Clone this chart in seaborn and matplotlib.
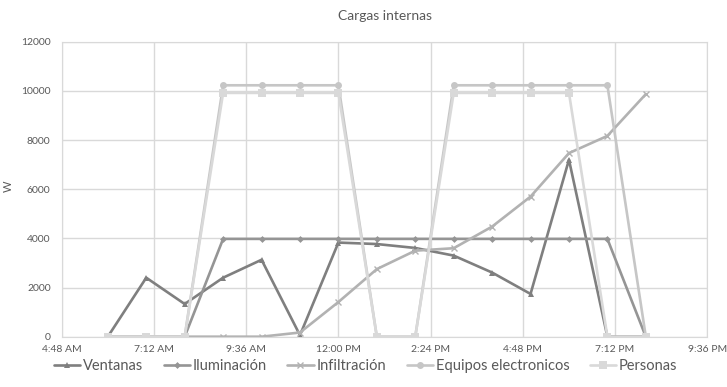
import pandas as pd
import numpy as np
import matplotlib
matplotlib.use("Agg")
import matplotlib.pyplot as plt
import seaborn as sns

horas = ["06:00", "07:00", "08:00", "09:00", "10:00", "11:00", "12:00", "13:00",
         "14:00", "15:00", "16:00", "17:00", "18:00", "19:00", "20:00"]

ventanas = [0, 2400, 1330, 2400, 3130, 60, 3830, 3770, 3610, 3300, 2610, 1740, 7200, 0, 0]
iluminacion = [0, 0, 0, 3980, 3980, 3980, 3980, 3980, 3980, 3980, 3980, 3980, 3980, 3980, 0]
infiltracion = [0, 0, 0, 0, 0, 170, 1410, 2750, 3500, 3600, 4480, 5700, 7470, 8170, 9870]
equipos = [0, 0, 0, 10230, 10230, 10230, 10230, 0, 0, 10230, 10230, 10230, 10230, 10230, 0]
personas = [0, 0, 0, 9920, 9920, 9920, 9920, 0, 0, 9920, 9920, 9920, 9920, 0, 0]

series = ["Ventanas", "Iluminación", "Infiltración", "Equipos electronicos", "Personas"]
colors = ["#7f7f7f", "#959595", "#b2b2b2", "#c6c6c6", "#d9d9d9"]
markers = ["^", "D", "x", "o", "s"]
msizes = [5, 3.5, 5, 5, 5.5]

t = pd.to_datetime(["2020-01-01 " + h for h in horas])
df = pd.DataFrame({"hora": t, "Ventanas": ventanas, "Iluminación": iluminacion,
                   "Infiltración": infiltracion, "Equipos electronicos": equipos,
                   "Personas": personas})

sns.set_style("white")
plt.rcParams["font.family"] = ["Lato", "DejaVu Sans"]

fig = plt.figure(figsize=(7.27, 3.87), dpi=100)
ax = fig.add_axes([0.0849, 0.13, 0.888, 0.762])

for name, c, m, ms in zip(series, colors, markers, msizes):
    sns.lineplot(data=df, x="hora", y=name, ax=ax, color=c, marker=m,
                 markersize=ms, markeredgecolor=c, markeredgewidth=1 if m == "x" else 0,
                 linewidth=1.9, label=name, legend=False)

start = pd.Timestamp("2020-01-01 04:48")
ticks = [start + pd.Timedelta(minutes=144 * i) for i in range(8)]
ax.set_xlim(ticks[0], ticks[-1])
ax.set_xticks(ticks)
ax.set_xticklabels([tk.strftime("%I:%M %p").lstrip("0") for tk in ticks])
ax.set_ylim(0, 12000)
ax.set_yticks(range(0, 12001, 2000))

ax.grid(True, color="#d9d9d9", linewidth=1)
for s in ax.spines.values():
    s.set_color("#d9d9d9")
ax.tick_params(axis="both", length=0, labelsize=7.5, labelcolor="#595959")
ax.tick_params(axis="x", pad=6)
ax.tick_params(axis="y", pad=8)
ax.set_xlabel("")
ax.set_ylabel("W", fontsize=8, color="#595959")
ax.yaxis.set_label_coords(-0.074, 0.51)
ax.set_title("Cargas internas", fontsize=10, color="#595959", pad=16)

handles, labels = ax.get_legend_handles_labels()
leg = fig.legend(handles, labels, loc="center", bbox_to_anchor=(0.503, 0.055), ncol=5,
                 frameon=False, fontsize=10.5, handlelength=1.8, handletextpad=0.2,
                 columnspacing=1.4)
for txt in leg.get_texts():
    txt.set_color("#595959")

fig.savefig("out.png", dpi=100)
